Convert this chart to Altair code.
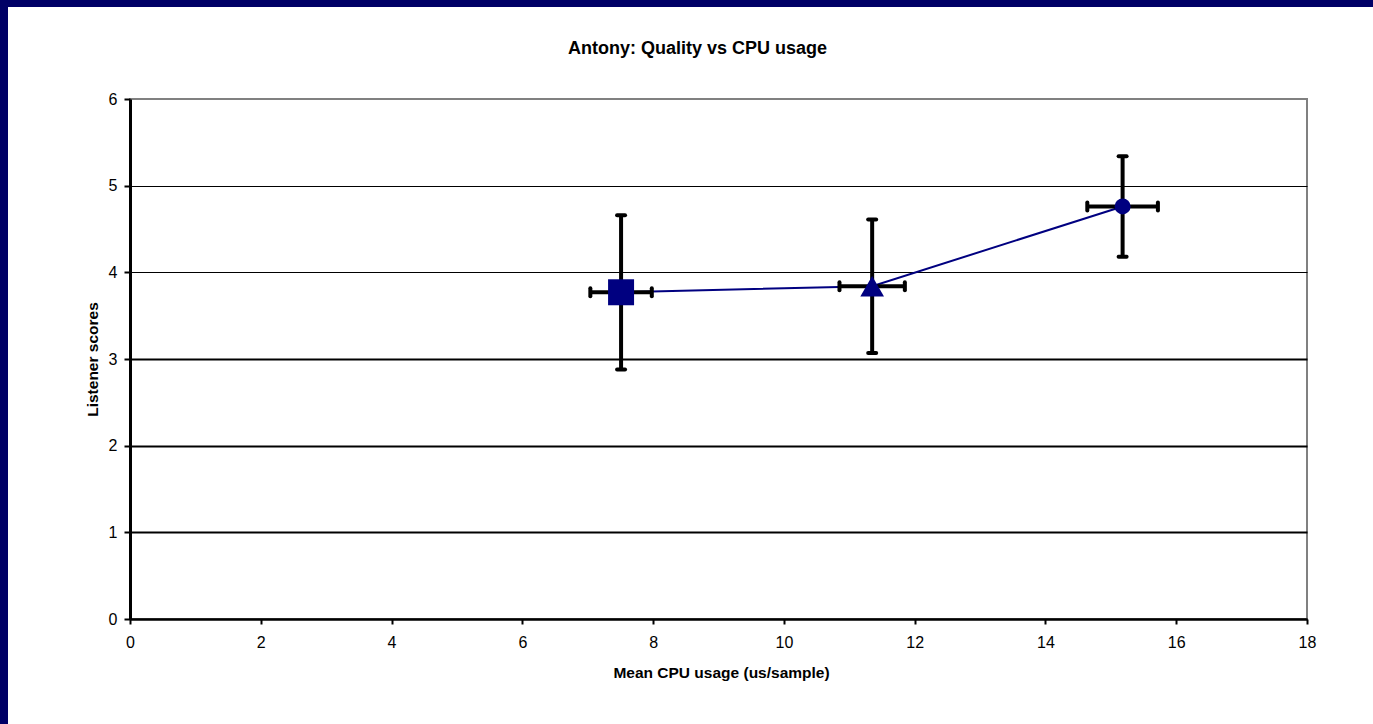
import altair as alt
import pandas as pd

# Mean CPU usage (us/sample) and its spread for each configuration
cpu = [7.51, 11.35, 15.18]
cpu_err = [0.47, 0.50, 0.54]

# Mean listener score and its spread
score = [3.77, 3.84, 4.76]
score_err = [0.89, 0.77, 0.58]

run = ["low", "mid", "high"]

x_ticks = [0, 2, 4, 6, 8, 10, 12, 14, 16, 18]
y_ticks = [0, 1, 2, 3, 4, 5, 6]

chart_title = ["Antony: Quality vs CPU usage"]

NAVY = "#000080"
FRAME = "#000066"
FONT = "Liberation Sans"
X_TITLE = "Mean CPU usage (us/sample)"
Y_TITLE = "Listener scores"

df = pd.DataFrame(
    {"run": run, "cpu": cpu, "cpu_err": cpu_err, "score": score, "score_err": score_err}
)

xs = alt.Scale(domain=[0, 18], nice=False, zero=True)
ys = alt.Scale(domain=[0, 6], nice=False, zero=True)

x_axis = alt.Axis(
    values=x_ticks,
    grid=False,
    domainColor="black",
    domainWidth=2,
    tickColor="black",
    tickWidth=2,
    tickSize=5,
    labelFont=FONT,
    labelFontSize=16,
    labelColor="black",
    labelPadding=10,
    labelFlush=False,
    titleFont=FONT,
    titleFontSize=15.5,
    titleFontWeight="bold",
    titleColor="black",
    titleX=591,
    titleY=58,
    titleAlign="center",
    titleBaseline="alphabetic",
)

y_axis = alt.Axis(
    values=y_ticks,
    grid=True,
    gridColor="black",
    gridWidth={"condition": {"test": "datum.value <= 3", "value": 2}, "value": 1},
    gridOpacity={"condition": {"test": "datum.value >= 6", "value": 0}, "value": 1},
    domainColor="black",
    domainWidth=3,
    tickColor="black",
    tickWidth=2,
    tickSize=6,
    labelFont=FONT,
    labelFontSize=16,
    labelColor="black",
    labelPadding=7,
    labelFlush=False,
    titleFont=FONT,
    titleFontSize=15.5,
    titleFontWeight="bold",
    titleColor="black",
    titleAngle=-90,
    titleX=-38,
    titleY=260,
    titleAlign="center",
    titleBaseline="middle",
)


def X(field):
    return alt.X(field, type="quantitative", scale=xs, axis=x_axis, title=X_TITLE)


def Y(field):
    return alt.Y(field, type="quantitative", scale=ys, axis=y_axis, title=Y_TITLE)


base = alt.Chart(df).transform_calculate(
    x_lo="datum.cpu - datum.cpu_err",
    x_hi="datum.cpu + datum.cpu_err",
    y_lo="datum.score - datum.score_err",
    y_hi="datum.score + datum.score_err",
)

# connecting line
line = base.mark_line(color=NAVY, strokeWidth=2).encode(
    x=X("cpu"), y=Y("score"), order="cpu:Q"
)

# error bars with end caps
bar_v = base.mark_rule(color="black", strokeWidth=4).encode(
    x=X("cpu"), y=Y("y_lo"), y2="y_hi:Q"
)
bar_h = base.mark_rule(color="black", strokeWidth=4).encode(
    x=X("x_lo"), x2="x_hi:Q", y=Y("score")
)
cap_top = base.mark_rule(
    color="black", strokeWidth=4, strokeCap="round", xOffset=-4, x2Offset=4
).encode(x=X("cpu"), x2="cpu:Q", y=Y("y_hi"))
cap_bot = base.mark_rule(
    color="black", strokeWidth=4, strokeCap="round", xOffset=-4, x2Offset=4
).encode(x=X("cpu"), x2="cpu:Q", y=Y("y_lo"))
cap_left = base.mark_rule(
    color="black", strokeWidth=4, strokeCap="round", yOffset=-4, y2Offset=4
).encode(x=X("x_lo"), y=Y("score"), y2="score:Q")
cap_right = base.mark_rule(
    color="black", strokeWidth=4, strokeCap="round", yOffset=-4, y2Offset=4
).encode(x=X("x_hi"), y=Y("score"), y2="score:Q")

# one marker style per configuration
marker_styles = [("low", "square", 676), ("mid", "triangle-up", 560), ("high", "circle", 256)]
markers = [
    base.transform_filter(alt.datum.run == name)
    .mark_point(shape=shape, size=size, filled=True, color=NAVY, opacity=1)
    .encode(x=X("cpu"), y=Y("score"))
    for name, shape, size in marker_styles
]

# chart heading, placed above the plot area
heading = (
    alt.Chart(pd.DataFrame({"label": chart_title}))
    .mark_text(
        font=FONT, fontSize=18, fontWeight="bold", color="black",
        align="center", baseline="alphabetic",
    )
    .encode(x=alt.value(567.5), y=alt.value(-45), text="label:N")
)

# dark frame along the left and top edges of the page
frame_src = alt.Chart(pd.DataFrame({"edge": [0]}))
frame_left = frame_src.mark_rect(color=FRAME).encode(
    x=alt.value(-130), x2=alt.value(-122), y=alt.value(-99), y2=alt.value(625)
)
frame_top = frame_src.mark_rect(color=FRAME).encode(
    x=alt.value(-130), x2=alt.value(1243), y=alt.value(-99), y2=alt.value(-92)
)

chart = (
    alt.layer(
        line, bar_v, bar_h, cap_top, cap_bot, cap_left, cap_right, *markers,
        heading, frame_left, frame_top,
    )
    .properties(
        width=1177,
        height=520,
        autosize=alt.AutoSizeParams(type="none"),
        padding={"left": 130, "top": 99, "right": 66, "bottom": 105},
        background="white",
    )
    .configure_view(stroke="#808080", strokeWidth=2)
)

chart.save("out.html", embed_options={"renderer": "svg", "actions": False})
